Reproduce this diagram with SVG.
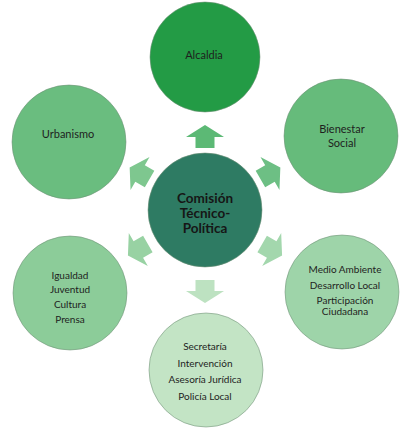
<svg xmlns="http://www.w3.org/2000/svg" width="407" height="432" viewBox="0 0 407 432">
<style>
  .node { stroke: #6f8f76; stroke-width: 0.8; stroke-opacity: 0.7; }
  .t { font-family: Lato, "Open Sans", "Liberation Sans", sans-serif; fill: #1e1e1e; text-anchor: middle; }
  .s11 { font-size: 11px; }
  .s10 { font-size: 10px; }
  .c { font-size: 13.5px; font-weight: bold; fill: #161616; }
</style>
<defs>
  <path id="arr" d="M -9.5 0 L -9.5 -11 L -19 -11 L 0 -23 L 19 -11 L 9.5 -11 L 9.5 0 Z"/>
</defs>
<rect width="407" height="432" fill="#ffffff"/>
<g id="connectors">
  <use href="#arr" fill="#5cb975" transform="translate(205,211) rotate(0) translate(0,-63)"/>
  <use href="#arr" fill="#6dbf84" transform="translate(205,211) rotate(60) translate(0,-64)"/>
  <use href="#arr" fill="#a3d7ad" transform="translate(205,211) rotate(120) translate(0,-66)"/>
  <use href="#arr" fill="#bde2c1" transform="translate(205,211) rotate(180) translate(0,-69)"/>
  <use href="#arr" fill="#98d2a3" transform="translate(205,211) rotate(240) translate(0,-66)"/>
  <use href="#arr" fill="#7ec78f" transform="translate(205,211) rotate(300) translate(0,-64)"/>
</g>
<g id="center">
  <circle class="node" cx="205" cy="210" r="57" fill="#2e7b63"/>
  <text class="t c" x="205" y="203">Comisión</text>
  <text class="t c" x="205" y="218">Técnico-</text>
  <text class="t c" x="205" y="233">Política</text>
</g>
<g id="alcaldia">
  <circle class="node" cx="205" cy="57" r="55" fill="#239b45"/>
  <text class="t s11" x="204" y="59">Alcaldia</text>
</g>
<g id="bienestar">
  <circle class="node" cx="341" cy="136" r="57" fill="#66bb7b"/>
  <text class="t s11" x="342" y="133">Bienestar</text>
  <text class="t s11" x="342" y="147">Social</text>
</g>
<g id="medio">
  <circle class="node" cx="342" cy="292" r="57" fill="#9ed4a9"/>
  <text class="t s10" x="345" y="273">Medio Ambiente</text>
  <text class="t s10" x="345" y="289">Desarrollo Local</text>
  <text class="t s10" x="345" y="304">Participación</text>
  <text class="t s10" x="345" y="315">Ciudadana</text>
</g>
<g id="secretaria">
  <circle class="node" cx="206" cy="370" r="57" fill="#c3e4c5"/>
  <text class="t s10" x="205" y="350">Secretaría</text>
  <text class="t s10" x="205" y="367">Intervención</text>
  <text class="t s10" x="205" y="383">Asesoría Jurídica</text>
  <text class="t s10" x="205" y="400">Policía Local</text>
</g>
<g id="igualdad">
  <circle class="node" cx="70" cy="293" r="57" fill="#8ccc99"/>
  <text class="t s10" x="70" y="279">Igualdad</text>
  <text class="t s10" x="70" y="293">Juventud</text>
  <text class="t s10" x="70" y="308">Cultura</text>
  <text class="t s10" x="70" y="323">Prensa</text>
</g>
<g id="urbanismo">
  <circle class="node" cx="69" cy="142" r="57" fill="#6abd7f"/>
  <text class="t s11" x="68" y="138">Urbanismo</text>
</g>
</svg>
